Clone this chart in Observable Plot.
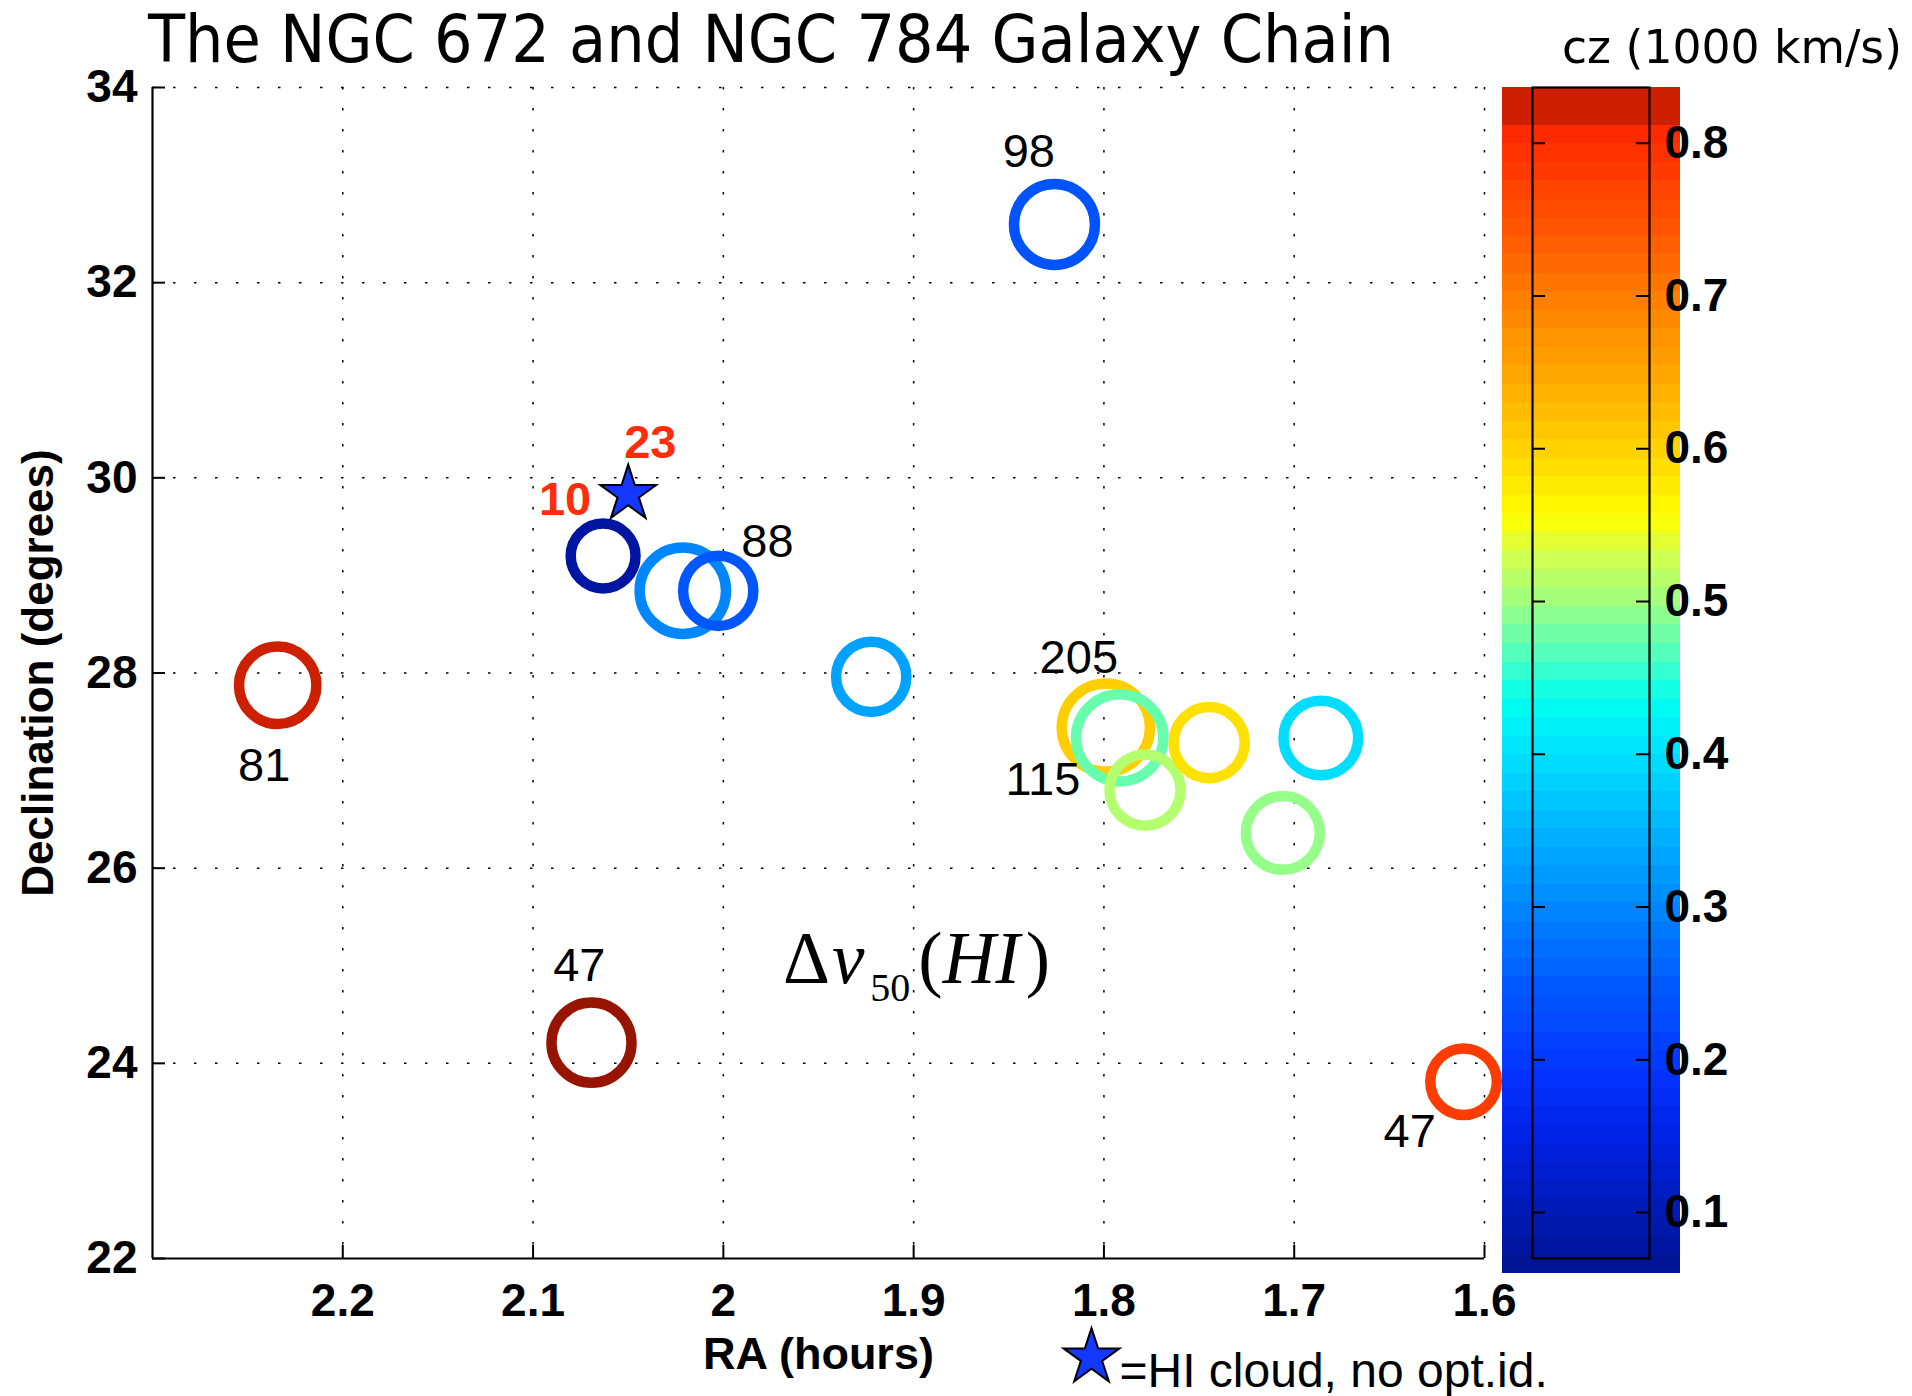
<!DOCTYPE html>
<html>
<head>
<meta charset="utf-8">
<script src="https://cdn.jsdelivr.net/npm/d3@7"></script>
<script src="https://cdn.jsdelivr.net/npm/@observablehq/plot@0.6"></script>
<style>
  html, body { margin: 0; padding: 0; background: #fff; }
  #chart { position: relative; width: 1912px; height: 1396px; overflow: hidden; background: #fff; }
  #chart > * { position: absolute; left: 0; top: 0; }
  #chart > #cbar { left: 1480px; }
  #chart > #dv50 {
    left: 783px; top: 922px;
    font-family: "Liberation Serif", "Times New Roman", serif;
    font-size: 73px; line-height: 73px; white-space: nowrap; color: #000;
  }
  #dv50 i { font-style: italic; }
  #dv50 .v { margin-left: 2px; }
  #dv50 .sub { font-size: 40px; position: relative; top: 18px; margin-left: 6px; }
  #dv50 .par { margin-left: 8px; }
  #dv50 .end { margin-left: 6px; }
</style>
</head>
<body>
<div id="chart"></div>
<script>
// ---- Galaxies: position (RA hours, Dec degrees), recession velocity cz (1000 km/s), relative HI marker size
const galaxyRa   = [2.2342, 1.8260, 2.0632, 2.0213, 2.0027, 1.9223, 1.7990, 1.7917, 1.7784, 1.7447, 1.6860, 1.7060, 2.0693, 1.6110];
const galaxyDec  = [27.874, 32.597, 29.199, 28.843, 28.842, 27.961, 27.441, 27.336, 26.800, 27.287, 27.334, 26.361, 24.212, 23.812];
const galaxyCz   = [0.825, 0.240, 0.080, 0.300, 0.245, 0.330, 0.605, 0.475, 0.512, 0.585, 0.395, 0.495, 0.900, 0.780];
const galaxySize = [0.86, 0.90, 0.72, 0.96, 0.78, 0.78, 0.98, 0.97, 0.79, 0.79, 0.83, 0.82, 0.89, 0.74];

// ---- HI cloud without optical identification
const cloudRa  = [2.050];
const cloudDec = [29.834];

// ---- Δv50(HI) line-width labels (km/s)
const widthText = ["98", "88", "205", "115", "81", "47", "47"];
const widthRa   = [1.8395, 1.9768, 1.8132, 1.8321, 2.2413, 2.0757, 1.6393];
const widthDec  = [33.335, 29.342, 28.153, 26.903, 27.049, 24.999, 23.300];

// ---- Δv50 labels belonging to the HI cloud
const cloudText = ["10", "23"];
const cloudTextRa  = [2.0832, 2.0384];
const cloudTextDec = [29.773, 30.357];

// ---- Axes
const xTicks = [2.2, 2.1, 2, 1.9, 1.8, 1.7, 1.6];
const yTicks = [22, 24, 26, 28, 30, 32, 34];
const xDomain = [2.3, 1.6];
const yDomain = [22, 34];

// ---- Colour map (cz in 1000 km/s) and colour bar
const czStops  = [0.0607, 0.10, 0.15, 0.19, 0.25, 0.30, 0.35, 0.40, 0.435, 0.465, 0.50, 0.53, 0.555, 0.60, 0.65, 0.70, 0.75, 0.806, 0.812, 0.8365, 0.90];
const czColors = ["#001490", "#0019b4", "#0023e6", "#0532ff", "#005aff", "#0087ff", "#00b4ff", "#00e1ff", "#00fff0", "#50ffc0",
                  "#a0ff80", "#d2ff50", "#ffff00", "#ffd200", "#ffa500", "#ff7d00", "#ff5000", "#ff2a00", "#cc2000", "#cc2000", "#961400"];
const czTicks = [0.1, 0.2, 0.3, 0.4, 0.5, 0.6, 0.7, 0.8];
const czAxisDomain = [0.0699, 0.8365];
const czImageRange = [0.0607, 0.8365];
const czLevels = 64;

const galaxies = galaxyRa.map((ra, i) => ({ra, dec: galaxyDec[i], cz: galaxyCz[i], size: galaxySize[i]}));
const clouds = cloudRa.map((ra, i) => ({ra, dec: cloudDec[i]}));
const widthLabels = widthText.map((t, i) => ({t, ra: widthRa[i], dec: widthDec[i]}));
const cloudLabels = cloudText.map((t, i) => ({t, ra: cloudTextRa[i], dec: cloudTextDec[i]}));

const colorScale = {type: "linear", domain: czStops, range: czColors, interpolate: "rgb", clamp: true};
const sans = "Liberation Sans, Arial, Helvetica, sans-serif";

const W = 1912, H = 1396;
const mL = 152, mR = 428, mT = 87, mB = 138;
const frameW = W - mL - mR, frameH = H - mT - mB;
const tickLen = 13;

const grid = {stroke: "black", strokeOpacity: 1, strokeWidth: 1.5, strokeDasharray: "2.5,18.5"};

const main = Plot.plot({
  width: W, height: H,
  marginLeft: mL, marginRight: mR, marginTop: mT, marginBottom: mB,
  style: {fontFamily: sans, background: "transparent", overflow: "visible"},
  x: {domain: xDomain},
  y: {domain: yDomain},
  r: {type: "linear", domain: [0, 1], range: [0, 45]},
  color: colorScale,
  marks: [
    Plot.gridX(xTicks, grid),
    Plot.gridY(yTicks.filter(d => d !== yDomain[0]), grid),
    Plot.ruleX([xDomain[0]], {stroke: "black", strokeWidth: 2.2}),
    Plot.ruleY([yDomain[0]], {stroke: "black", strokeWidth: 2.2}),
    Plot.tickX(xTicks, {stroke: "black", strokeWidth: 2, insetTop: frameH - tickLen}),
    Plot.tickY(yTicks, {stroke: "black", strokeWidth: 2, insetRight: frameW - tickLen}),
    Plot.axisX(xTicks, {anchor: "bottom", tickSize: 0, tickPadding: 25, label: null,
      tickFormat: d => String(d), fontSize: 46, fontWeight: "bold", fontFamily: sans}),
    Plot.axisY(yTicks, {anchor: "left", tickSize: 0, tickPadding: 15, label: null,
      tickFormat: d => String(d), fontSize: 46, fontWeight: "bold", fontFamily: sans}),
    // galaxies as open rings coloured by cz
    Plot.dot(galaxies, {x: "ra", y: "dec", r: "size", stroke: "cz", fill: "none", strokeWidth: 10.5}),
    // HI cloud
    Plot.dot(clouds, {x: "ra", y: "dec", symbol: "star", r: 17.6, fill: "#1438ff", stroke: "black", strokeWidth: 2}),
    Plot.text(widthLabels, {x: "ra", y: "dec", text: "t", fontSize: 47, fontFamily: sans, fill: "black"}),
    Plot.text(cloudLabels, {x: "ra", y: "dec", text: "t", fontSize: 47, fontWeight: "bold", fontFamily: sans, fill: "#ff2d0a"}),
    // axis titles
    Plot.text(["RA (hours)"], {frameAnchor: "bottom", text: d => d, dy: 110, lineAnchor: "bottom",
      textAnchor: "middle", fontSize: 45, fontWeight: "bold", fontFamily: sans}),
    Plot.text(["Declination (degrees)"], {frameAnchor: "left", text: d => d, dx: -114, rotate: -90,
      textAnchor: "middle", lineAnchor: "middle", fontSize: 44, fontWeight: "bold", fontFamily: sans}),
    // legend for the star symbol
    Plot.dot({length: 1}, {frameAnchor: "bottom", dx: 273, dy: 99, symbol: "star", r: 17.6,
      fill: "#1438ff", stroke: "black", strokeWidth: 2}),
    Plot.text(["=HI cloud, no opt.id."], {frameAnchor: "bottom", text: d => d, dx: 301, dy: 128,
      textAnchor: "start", lineAnchor: "bottom", fontSize: 48, fontFamily: sans})
  ]
});

// ---- colour bar
const step = (czImageRange[1] - czImageRange[0]) / czLevels;
const bands = d3.range(czLevels).map(i => {
  const lo = czImageRange[0] + i * step;
  return {lo, hi: lo + step, mid: lo + step / 2};
});
const cbW = 432, cbL = 52, cbR = 263;
const cbFrameW = cbW - cbL - cbR;

const cbar = Plot.plot({
  width: cbW, height: H,
  marginLeft: cbL, marginRight: cbR, marginTop: mT, marginBottom: mB,
  style: {fontFamily: sans, background: "transparent", overflow: "visible"},
  y: {domain: czAxisDomain},
  color: colorScale,
  marks: [
    Plot.rect(bands, {y1: "lo", y2: "hi", fill: "mid", insetLeft: -30, insetRight: -31,
      insetTop: -0.5, insetBottom: -0.5, shapeRendering: "crispEdges"}),
    Plot.tickY(czTicks, {stroke: "black", strokeWidth: 2, insetRight: cbFrameW - tickLen}),
    Plot.tickY(czTicks, {stroke: "black", strokeWidth: 2, insetLeft: cbFrameW - tickLen}),
    Plot.frame({stroke: "black", strokeWidth: 2.2}),
    Plot.axisY(czTicks, {anchor: "right", tickSize: 0, tickPadding: 15, label: null,
      tickFormat: d3.format(".1f"), fontSize: 46, fontWeight: "bold", fontFamily: sans})
  ]
});
cbar.id = "cbar";

// ---- titles above the plot
const ns = "http://www.w3.org/2000/svg";
const head = document.createElementNS(ns, "svg");
head.setAttribute("width", W);
head.setAttribute("height", 100);
head.id = "title-svg";
function addText(str, x, y, size, len) {
  const t = document.createElementNS(ns, "text");
  t.setAttribute("x", x);
  t.setAttribute("y", y);
  t.setAttribute("font-size", size);
  t.setAttribute("font-family", "DejaVu Sans Condensed, DejaVu Sans, sans-serif");
  t.setAttribute("textLength", len);
  t.setAttribute("lengthAdjust", "spacingAndGlyphs");
  t.textContent = str;
  head.appendChild(t);
}
addText("The NGC 672 and NGC 784 Galaxy Chain", 148, 62, 66, 1246);
addText("cz (1000 km/s)", 1562, 63, 46, 340);

// ---- line-width annotation
const dv = document.createElement("div");
dv.id = "dv50";
dv.innerHTML = 'Δ<i class="v">v</i><span class="sub">50</span><span class="par">(</span><i>HI</i><span class="end">)</span>';

const chart = document.getElementById("chart");
chart.appendChild(main);
chart.appendChild(cbar);
chart.appendChild(head);
chart.appendChild(dv);
</script>
</body>
</html>
